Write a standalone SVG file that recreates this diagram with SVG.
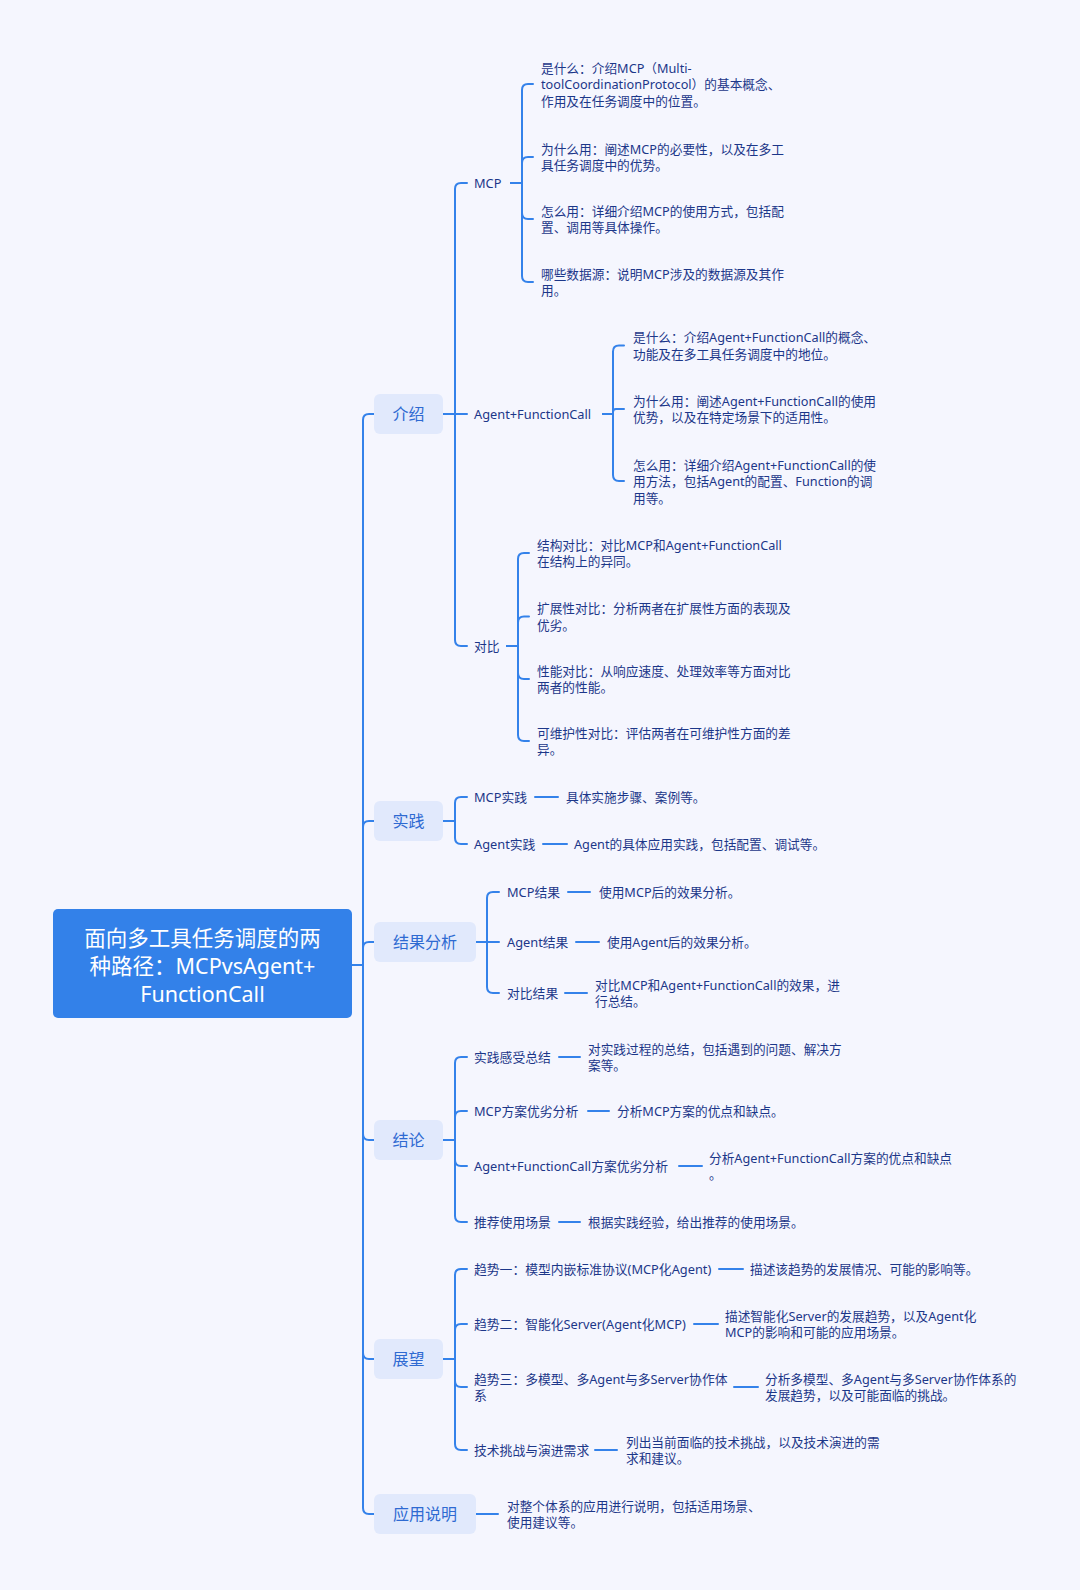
<svg xmlns="http://www.w3.org/2000/svg" width="1080" height="1590" viewBox="0 0 1080 1590">
<style>
.ln{fill:none;stroke:#3482EA;stroke-width:2;stroke-linecap:round;stroke-linejoin:round}
.b1{fill:#E1E9FC}
.rt{fill:#3381E9}
text{font-family:"Noto Sans","Noto Sans CJK SC",sans-serif;dominant-baseline:central}
.t0{font-size:21.5px;fill:#FFFFFF;text-anchor:middle}
.t1{font-size:16px;fill:#2E6AD2;text-anchor:middle}
.t2{font-size:12.8px;fill:#1C3789}
.t3{font-size:12.7px;fill:#1C3789}
</style>
<rect width="1080" height="1590" fill="#F5F6FE"/>
<g id="connectors">
<path class="ln" d="M352 965H363V420Q363 414 369 414H374"/>
<path class="ln" d="M352 965H363V827Q363 821 369 821H374"/>
<path class="ln" d="M352 965H363V948Q363 942 369 942H374"/>
<path class="ln" d="M352 965H363V1134Q363 1140 369 1140H374"/>
<path class="ln" d="M352 965H363V1353Q363 1359 369 1359H374"/>
<path class="ln" d="M352 965H363V1508Q363 1514 369 1514H374"/>
<path class="ln" d="M443 414H455V189Q455 183 461 183H467"/>
<path class="ln" d="M443 414H467"/>
<path class="ln" d="M443 414H455V640Q455 646 461 646H467"/>
<path class="ln" d="M511 183H522V90Q522 84 528 84H533"/>
<path class="ln" d="M511 183H522V163Q522 157 528 157H533"/>
<path class="ln" d="M511 183H522V213Q522 219 528 219H533"/>
<path class="ln" d="M511 183H522V276Q522 282 528 282H533"/>
<path class="ln" d="M603 414H613V351.5Q613 345.5 619 345.5H624"/>
<path class="ln" d="M603 414H613V412Q613 409 616 409H624"/>
<path class="ln" d="M603 414H613V475Q613 481 619 481H624"/>
<path class="ln" d="M507 646H518V559Q518 553 524 553H529"/>
<path class="ln" d="M507 646H518V622.5Q518 616.5 524 616.5H529"/>
<path class="ln" d="M507 646H518V673Q518 679 524 679H529"/>
<path class="ln" d="M507 646H518V735Q518 741 524 741H529"/>
<path class="ln" d="M443 821H455V803Q455 797 461 797H467"/>
<path class="ln" d="M443 821H455V838Q455 844 461 844H467"/>
<path class="ln" d="M535 797H558"/>
<path class="ln" d="M543 844H567"/>
<path class="ln" d="M476 942H487V898Q487 892 493 892H499"/>
<path class="ln" d="M476 942H499"/>
<path class="ln" d="M476 942H487V987Q487 993 493 993H499"/>
<path class="ln" d="M568 892H590"/>
<path class="ln" d="M576 942H599"/>
<path class="ln" d="M565 993H587"/>
<path class="ln" d="M443 1140H455V1063Q455 1057 461 1057H467"/>
<path class="ln" d="M443 1140H455V1117Q455 1111 461 1111H467"/>
<path class="ln" d="M443 1140H455V1160Q455 1166 461 1166H467"/>
<path class="ln" d="M443 1140H455V1216Q455 1222 461 1222H467"/>
<path class="ln" d="M559 1057H580"/>
<path class="ln" d="M588 1111H609"/>
<path class="ln" d="M679 1166H702"/>
<path class="ln" d="M559 1222H580"/>
<path class="ln" d="M443 1359H455V1275Q455 1269 461 1269H467"/>
<path class="ln" d="M443 1359H455V1330Q455 1324 461 1324H467"/>
<path class="ln" d="M443 1359H455V1381Q455 1387 461 1387H467"/>
<path class="ln" d="M443 1359H455V1444Q455 1450 461 1450H467"/>
<path class="ln" d="M719 1269H743"/>
<path class="ln" d="M694 1324H718"/>
<path class="ln" d="M734 1387H758"/>
<path class="ln" d="M595 1450H617"/>
<path class="ln" d="M476 1514H498"/>
</g>
<g id="root">
<rect class="rt" x="53" y="909" width="299" height="109" rx="5"/>
<text class="t0"><tspan x="202.5" y="937">面向多工具任务调度的两</tspan><tspan x="202.5" y="965">种路径：MCPvsAgent+</tspan><tspan x="202.5" y="993">FunctionCall</tspan></text>
</g>
<g id="n-intro"><rect class="b1" x="374" y="394" width="69" height="40" rx="6"/><text class="t1" x="408.5" y="414">介绍</text></g>
<g id="n-practice"><rect class="b1" x="374" y="801" width="69" height="40" rx="6"/><text class="t1" x="408.5" y="821">实践</text></g>
<g id="n-result"><rect class="b1" x="374" y="922" width="102" height="40" rx="6"/><text class="t1" x="425" y="942">结果分析</text></g>
<g id="n-conclusion"><rect class="b1" x="374" y="1120" width="69" height="40" rx="6"/><text class="t1" x="408.5" y="1140">结论</text></g>
<g id="n-outlook"><rect class="b1" x="374" y="1339" width="69" height="40" rx="6"/><text class="t1" x="408.5" y="1359">展望</text></g>
<g id="n-usage"><rect class="b1" x="374" y="1494" width="102" height="40" rx="6"/><text class="t1" x="425" y="1514">应用说明</text></g>

<g id="n-mcp"><text class="t2" x="474" y="183">MCP</text></g>
<g id="n-mcp-what"><text class="t3"><tspan x="541" y="67.5">是什么：介绍MCP（Multi-</tspan><tspan x="541" y="84">toolCoordinationProtocol）的基本概念、</tspan><tspan x="541" y="100.5">作用及在任务调度中的位置。</tspan></text></g>
<g id="n-mcp-why"><text class="t3"><tspan x="541" y="148.75">为什么用：阐述MCP的必要性，以及在多工</tspan><tspan x="541" y="165.25">具任务调度中的优势。</tspan></text></g>
<g id="n-mcp-how"><text class="t3"><tspan x="541" y="210.75">怎么用：详细介绍MCP的使用方式，包括配</tspan><tspan x="541" y="227.25">置、调用等具体操作。</tspan></text></g>
<g id="n-mcp-data"><text class="t3"><tspan x="541" y="273.75">哪些数据源：说明MCP涉及的数据源及其作</tspan><tspan x="541" y="290.25">用。</tspan></text></g>

<g id="n-afc"><text class="t2" x="474" y="414">Agent+FunctionCall</text></g>
<g id="n-afc-what"><text class="t3"><tspan x="633" y="337.25">是什么：介绍Agent+FunctionCall的概念、</tspan><tspan x="633" y="353.75">功能及在多工具任务调度中的地位。</tspan></text></g>
<g id="n-afc-why"><text class="t3"><tspan x="633" y="400.75">为什么用：阐述Agent+FunctionCall的使用</tspan><tspan x="633" y="417.25">优势，以及在特定场景下的适用性。</tspan></text></g>
<g id="n-afc-how"><text class="t3"><tspan x="633" y="464.5">怎么用：详细介绍Agent+FunctionCall的使</tspan><tspan x="633" y="481">用方法，包括Agent的配置、Function的调</tspan><tspan x="633" y="497.5">用等。</tspan></text></g>

<g id="n-compare"><text class="t2" x="474" y="646">对比</text></g>
<g id="n-cmp-struct"><text class="t3"><tspan x="537" y="544.75">结构对比：对比MCP和Agent+FunctionCall</tspan><tspan x="537" y="561.25">在结构上的异同。</tspan></text></g>
<g id="n-cmp-ext"><text class="t3"><tspan x="537" y="608.25">扩展性对比：分析两者在扩展性方面的表现及</tspan><tspan x="537" y="624.75">优劣。</tspan></text></g>
<g id="n-cmp-perf"><text class="t3"><tspan x="537" y="670.75">性能对比：从响应速度、处理效率等方面对比</tspan><tspan x="537" y="687.25">两者的性能。</tspan></text></g>
<g id="n-cmp-maint"><text class="t3"><tspan x="537" y="732.75">可维护性对比：评估两者在可维护性方面的差</tspan><tspan x="537" y="749.25">异。</tspan></text></g>

<g id="n-mcp-practice"><text class="t2" x="474" y="797">MCP实践</text></g>
<g id="n-mcp-practice-d"><text class="t3" x="566" y="797">具体实施步骤、案例等。</text></g>
<g id="n-agent-practice"><text class="t2" x="474" y="844">Agent实践</text></g>
<g id="n-agent-practice-d"><text class="t3" x="574" y="844">Agent的具体应用实践，包括配置、调试等。</text></g>

<g id="n-mcp-result"><text class="t2" x="507" y="892">MCP结果</text></g>
<g id="n-mcp-result-d"><text class="t3" x="599" y="892">使用MCP后的效果分析。</text></g>
<g id="n-agent-result"><text class="t2" x="507" y="942">Agent结果</text></g>
<g id="n-agent-result-d"><text class="t3" x="607" y="942">使用Agent后的效果分析。</text></g>
<g id="n-cmp-result"><text class="t2" x="507" y="993">对比结果</text></g>
<g id="n-cmp-result-d"><text class="t3"><tspan x="595" y="984.75">对比MCP和Agent+FunctionCall的效果，进</tspan><tspan x="595" y="1001.25">行总结。</tspan></text></g>

<g id="n-summary"><text class="t2" x="474" y="1057">实践感受总结</text></g>
<g id="n-summary-d"><text class="t3"><tspan x="588" y="1048.75">对实践过程的总结，包括遇到的问题、解决方</tspan><tspan x="588" y="1065.25">案等。</tspan></text></g>
<g id="n-mcp-eval"><text class="t2" x="474" y="1111">MCP方案优劣分析</text></g>
<g id="n-mcp-eval-d"><text class="t3" x="617" y="1111">分析MCP方案的优点和缺点。</text></g>
<g id="n-afc-eval"><text class="t2" x="474" y="1166">Agent+FunctionCall方案优劣分析</text></g>
<g id="n-afc-eval-d"><text class="t3"><tspan x="709" y="1157.75">分析Agent+FunctionCall方案的优点和缺点</tspan><tspan x="709" y="1174.25">。</tspan></text></g>
<g id="n-recommend"><text class="t2" x="474" y="1222">推荐使用场景</text></g>
<g id="n-recommend-d"><text class="t3" x="588" y="1222">根据实践经验，给出推荐的使用场景。</text></g>

<g id="n-trend1"><text class="t2" x="474" y="1269">趋势一：模型内嵌标准协议(MCP化Agent)</text></g>
<g id="n-trend1-d"><text class="t3" x="750" y="1269">描述该趋势的发展情况、可能的影响等。</text></g>
<g id="n-trend2"><text class="t2" x="474" y="1324">趋势二：智能化Server(Agent化MCP)</text></g>
<g id="n-trend2-d"><text class="t3"><tspan x="725" y="1315.75">描述智能化Server的发展趋势，以及Agent化</tspan><tspan x="725" y="1332.25">MCP的影响和可能的应用场景。</tspan></text></g>
<g id="n-trend3"><text class="t2"><tspan x="474" y="1378.75">趋势三：多模型、多Agent与多Server协作体</tspan><tspan x="474" y="1395.25">系</tspan></text></g>
<g id="n-trend3-d"><text class="t3"><tspan x="765" y="1378.75">分析多模型、多Agent与多Server协作体系的</tspan><tspan x="765" y="1395.25">发展趋势，以及可能面临的挑战。</tspan></text></g>
<g id="n-challenge"><text class="t2" x="474" y="1450">技术挑战与演进需求</text></g>
<g id="n-challenge-d"><text class="t3"><tspan x="626" y="1441.75">列出当前面临的技术挑战，以及技术演进的需</tspan><tspan x="626" y="1458.25">求和建议。</tspan></text></g>

<g id="n-usage-d"><text class="t3"><tspan x="507" y="1505.75">对整个体系的应用进行说明，包括适用场景、</tspan><tspan x="507" y="1522.25">使用建议等。</tspan></text></g>
</svg>
